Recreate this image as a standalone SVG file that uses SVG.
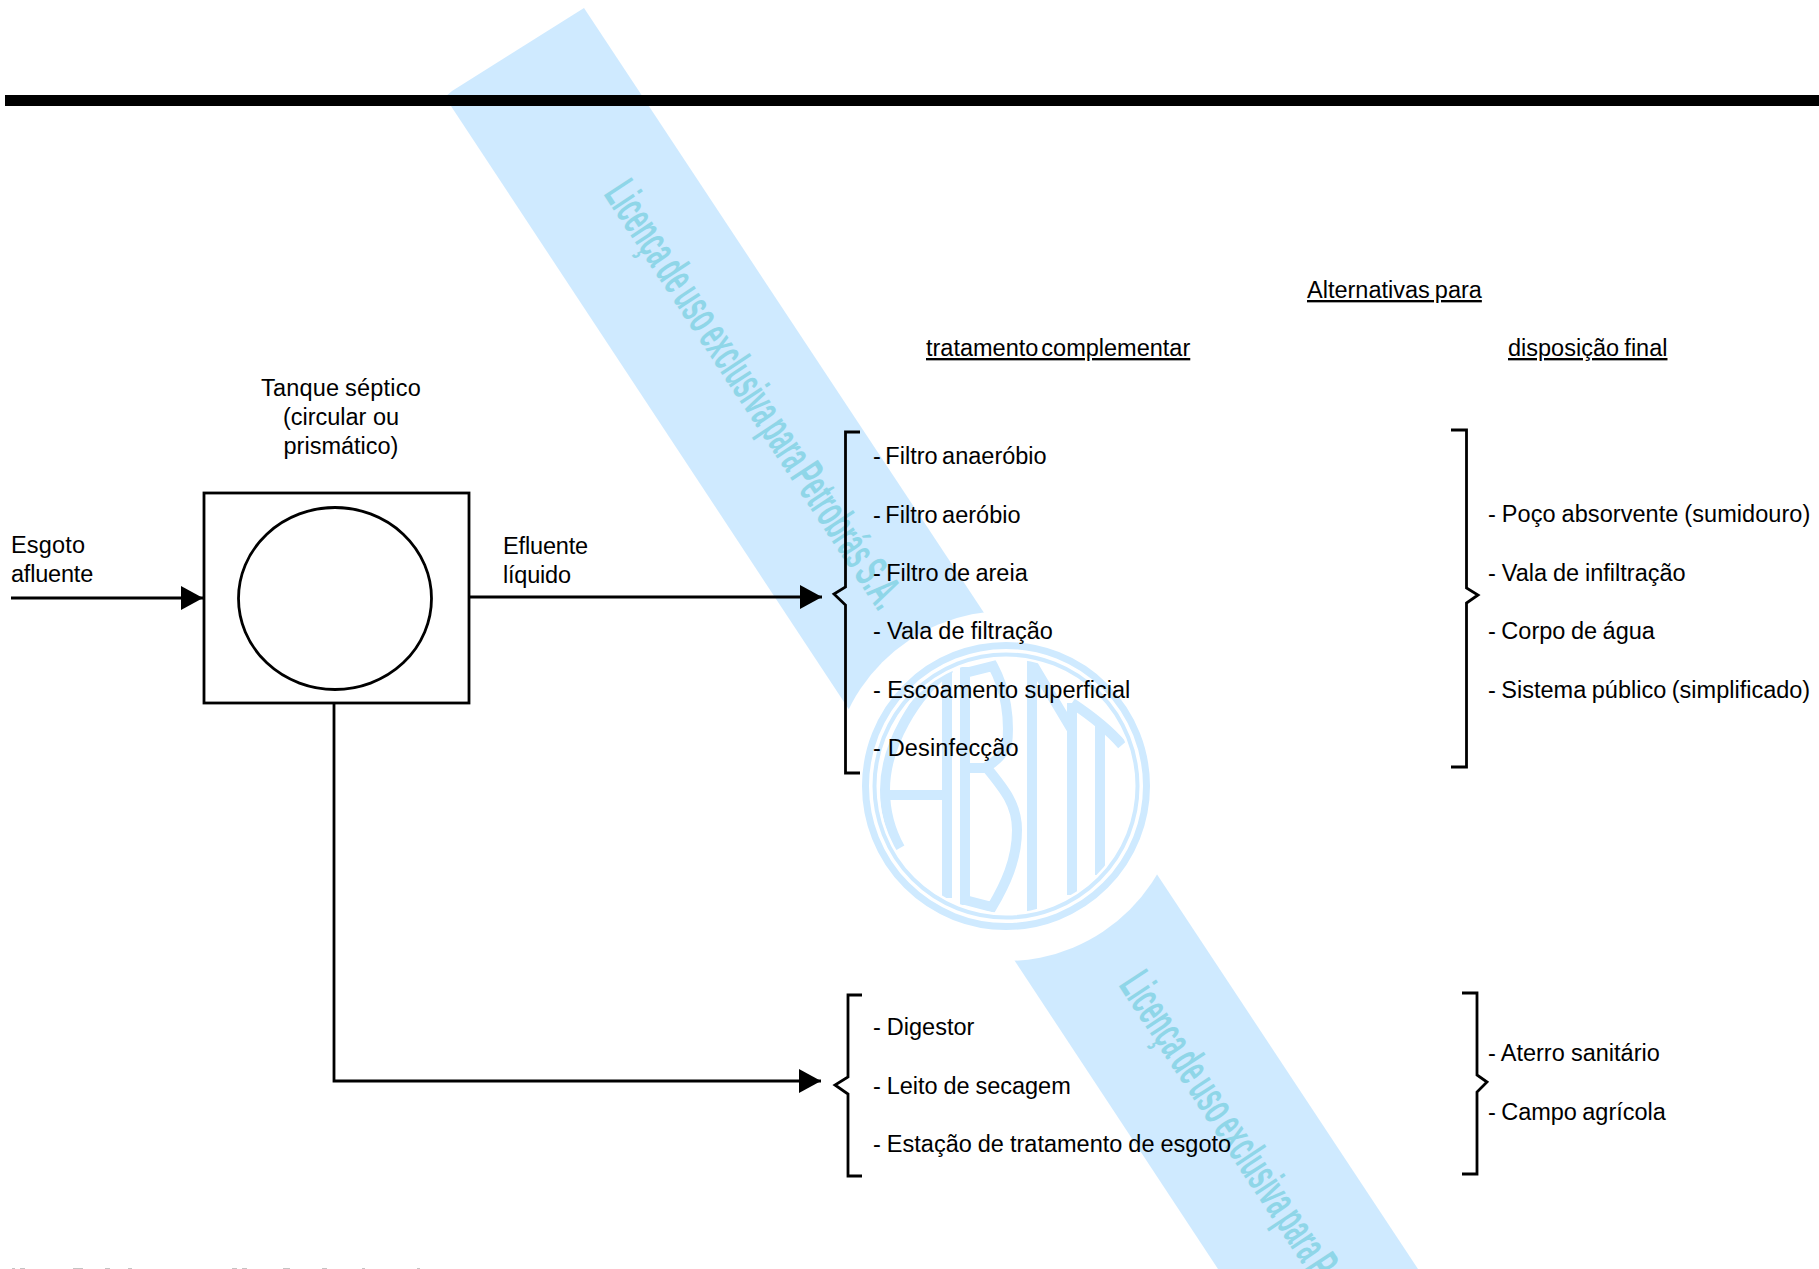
<svg xmlns="http://www.w3.org/2000/svg" width="1819" height="1269" viewBox="0 0 1819 1269">
<style>
text{font-family:"Liberation Sans",Arial,sans-serif;font-size:23.5px;fill:#000}
.u{text-decoration:underline}
.m{text-anchor:middle}
.wm{font-size:48px;font-weight:bold;fill:#8fd6e8;word-spacing:-5.5px}
.ln{fill:none;stroke:#000;stroke-width:2.8}
.lg{fill:none;stroke:#cfeaff;stroke-width:10}
.nt{word-spacing:-2px}
.tick{fill:#c4c4c4}
</style>
<defs>
<marker id="ah" markerUnits="userSpaceOnUse" markerWidth="22" markerHeight="24" refX="22" refY="12" orient="auto"><path d="M0 0L22 12L0 24Z" fill="#000"/></marker>
<clipPath id="lc"><circle cx="1006" cy="786" r="127"/></clipPath>
<mask id="hole"><rect width="1819" height="1269" fill="#fff"/><circle cx="1006" cy="786" r="175" fill="#000"/></mask>
</defs>
<rect width="1819" height="1269" fill="#fff"/>
<g id="watermark">
<path d="M584 8L452 91L445 97L1218 1269H1418Z" fill="#cfeaff" mask="url(#hole)"/>
<circle cx="1006" cy="786" r="140.5" fill="none" stroke="#cfeaff" stroke-width="7"/>
<circle cx="1006" cy="786" r="131.5" fill="none" stroke="#cfeaff" stroke-width="4"/>
<g clip-path="url(#lc)">
<path class="lg" d="M950 668C915 695 885 745 885 790C885 810 890 830 900 848M947 672V898M885 795H947"/>
<path class="lg" d="M965 667V905M965 673L993 666C1006 690 1010 720 1007 745C1003 755 995 762 985 768M965 768H987C1005 790 1017 805 1017 830C1017 860 1005 885 992 907L965 900"/>
<path class="lg" d="M1032 660V915M1032 663L1072 730M1072 703V895M1100 725V875M1072 703Q1105 725 1122 745"/>
</g>
<text class="wm" transform="translate(603 194) rotate(56.6) scale(.5 1)">Licença de uso exclusiva para Petrobrás S.A.</text>
<text class="wm" transform="translate(1118 985) rotate(56.6) scale(.5 1)">Licença de uso exclusiva para P</text>
</g>
<rect id="top-rule" x="5" y="95" width="1814" height="11" fill="#000"/>
<g id="connectors">
<path class="ln" d="M11 598H203" marker-end="url(#ah)"/>
<path class="ln" d="M469 597H822" marker-end="url(#ah)"/>
<path class="ln" d="M334 703V1081H821" marker-end="url(#ah)"/>
</g>
<g id="tank">
<rect class="ln" x="204" y="493" width="265" height="210"/>
<ellipse class="ln" cx="335" cy="598.5" rx="96.5" ry="91"/>
<text class="m" x="341" y="396" style="letter-spacing:.2px;word-spacing:-1px">Tanque séptico</text>
<text class="m" x="341" y="425">(circular ou</text>
<text class="m" x="341" y="454">prismático)</text>
</g>
<g id="label-esgoto"><text x="11" y="553" style="letter-spacing:.2px">Esgoto</text><text x="11" y="582" style="letter-spacing:-.2px">afluente</text></g>
<g id="label-efluente"><text x="503" y="554" style="letter-spacing:-.15px">Efluente</text><text x="503" y="583" style="letter-spacing:-.2px">líquido</text></g>
<g id="header">
<text class="u" x="1307" y="298" style="word-spacing:-1.5px">Alternativas para</text>
<text class="u" x="926" y="356" style="word-spacing:-3.5px">tratamento complementar</text>
<text class="u" x="1508" y="356" style="word-spacing:-1.2px">disposição final</text>
</g>
<g id="brace-tratamento">
<path class="ln" d="M860 432H845.5V587L834 594L845.5 605V773H860"/>
<text class="nt" x="873" y="464">- Filtro anaeróbio</text>
<text class="nt" x="873" y="523">- Filtro aeróbio</text>
<text style="word-spacing:-1.1px" x="873" y="581">- Filtro de areia</text>
<text style="word-spacing:-.4px" x="873" y="639">- Vala de filtração</text>
<text x="873" y="698">- Escoamento superficial</text>
<text style="letter-spacing:.15px" x="873" y="756">- Desinfecção</text>
</g>
<g id="brace-lodo">
<path class="ln" d="M862 995H848V1077L835 1085L848 1094V1176H862"/>
<text style="word-spacing:-.5px" x="873" y="1035">- Digestor</text>
<text style="word-spacing:-.7px" x="873" y="1094">- Leito de secagem</text>
<text style="word-spacing:-.5px" x="873" y="1152">- Estação de tratamento de esgoto</text>
</g>
<g id="brace-disposicao">
<path class="ln" d="M1451 430H1466.5V588L1478 595L1466.5 603V767H1451"/>
<text style="word-spacing:-.6px;letter-spacing:.05px" x="1488" y="522">- Poço absorvente (sumidouro)</text>
<text style="word-spacing:-.6px" x="1488" y="581">- Vala de infiltração</text>
<text style="word-spacing:-1px" x="1488" y="639">- Corpo de água</text>
<text style="word-spacing:-1px" x="1488" y="698">- Sistema público (simplificado)</text>
</g>
<g id="brace-lodo-disposicao">
<path class="ln" d="M1462 993H1477V1075L1487 1082L1477 1092V1174H1462"/>
<text style="word-spacing:-.3px" x="1488" y="1061">- Aterro sanitário</text>
<text style="word-spacing:-1.2px" x="1488" y="1120">- Campo agrícola</text>
</g>
<g id="cut-line" class="tick">
<rect x="12" y="1268" width="3" height="1"/><rect x="20" y="1268" width="5" height="1"/><rect x="73" y="1268" width="10" height="1"/><rect x="105" y="1268" width="5" height="1"/><rect x="128" y="1268" width="4" height="1"/><rect x="232" y="1268" width="5" height="1"/><rect x="242" y="1268" width="5" height="1"/><rect x="283" y="1268" width="7" height="1"/><rect x="322" y="1268" width="5" height="1"/><rect x="362" y="1268" width="3" height="1"/><rect x="417" y="1268" width="3" height="1"/>
</g>
</svg>
